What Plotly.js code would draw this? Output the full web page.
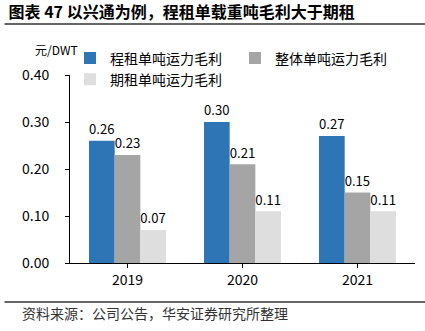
<!DOCTYPE html>
<html><head><meta charset="utf-8">
<script src="https://cdn.plot.ly/plotly-3.0.1.min.js"></script>
<style>body{margin:0;padding:0;background:#fff}#chart{width:425px;height:331px}</style>
</head><body><div id="chart"></div>
<script>
const years = ['2019', '2020', '2021'];
const seriesNames = ['程租单吨运力毛利', '整体单吨运力毛利', '期租单吨运力毛利'];
const voyageCharter = [0.26, 0.30, 0.27];
const overall = [0.23, 0.21, 0.15];
const timeCharter = [0.07, 0.11, 0.11];
const colors = ['#2E75B6', '#A5A5A5', '#DEDEDE'];
const yTicks = [0, 0.1, 0.2, 0.3, 0.4];

const font = 'Noto Sans CJK SC, DejaVu Sans, sans-serif';
const values = [voyageCharter, overall, timeCharter];
const traces = values.map((v, i) => ({
  type: 'bar', name: seriesNames[i], x: years, y: v,
  marker: {color: colors[i]},
  text: v.map(d => d.toFixed(2)), textposition: 'outside', cliponaxis: false,
  textfont: {size: 14, color: '#000', family: font}
}));

const layout = {
  width: 425, height: 331,
  margin: {l: 70, r: 10, t: 75, b: 68},
  paper_bgcolor: '#fff', plot_bgcolor: '#fff',
  barmode: 'group', bargap: 0.33, bargroupgap: 0,
  font: {family: font, size: 14, color: '#000'},
  title: {text: '<b>图表 47 以兴通为例，程租单载重吨毛利大于期租</b>', x: 0.02, xanchor: 'left', y: 0.962, yanchor: 'middle', font: {size: 16, color: '#000', family: font}},
  xaxis: {showline: true, linecolor: '#000', linewidth: 1, ticks: 'outside', ticklen: 4, tickcolor: '#000', tickson: 'boundaries', showgrid: false, tickfont: {size: 14}},
  yaxis: {range: [0, 0.4], tickvals: yTicks, tickformat: '.2f', showline: true, linecolor: '#000', linewidth: 1, ticks: 'outside', ticklen: 4, tickcolor: '#000', showgrid: false, zeroline: false, ticklabelstandoff: 13, tickfont: {size: 14}},
  legend: {orientation: 'h', x: 0.0, y: 1.173, xanchor: 'left', yanchor: 'top', entrywidth: 120, entrywidthmode: 'pixels', font: {size: 14}, bgcolor: 'rgba(0,0,0,0)'},
  showlegend: true,
  annotations: [
    {text: '元/DWT', xref: 'paper', yref: 'paper', x: -0.107, y: 1.133, xanchor: 'left', yanchor: 'middle', showarrow: false, font: {size: 12}},
    {text: '资料来源：公司公告，华安证券研究所整理', xref: 'paper', yref: 'paper', x: -0.145, y: -0.265, xanchor: 'left', yanchor: 'middle', showarrow: false, font: {size: 14, color: '#333'}}
  ],
  shapes: [
    {type: 'line', xref: 'paper', yref: 'paper', x0: -0.19, x1: 1.03, y0: 1.271, y1: 1.271, line: {color: '#333', width: 1.5}},
    {type: 'line', xref: 'paper', yref: 'paper', x0: -0.19, x1: 1.03, y0: -0.207, y1: -0.207, line: {color: '#333', width: 1.5}}
  ]
};
Plotly.newPlot('chart', traces, layout, {displayModeBar: false, staticPlot: true});
</script></body></html>
